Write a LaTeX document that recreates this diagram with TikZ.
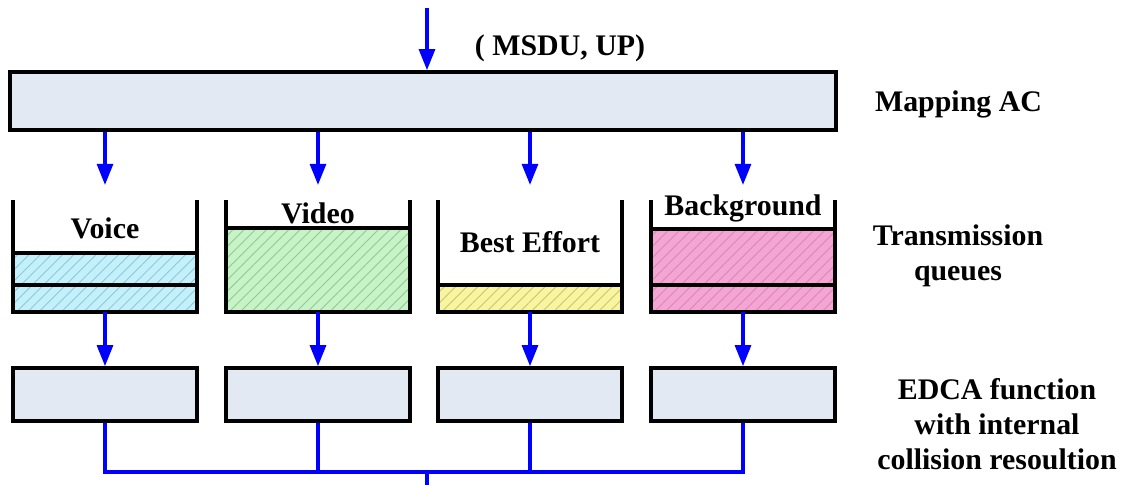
\documentclass[tikz,border=0pt]{standalone}
\usepackage{fontspec}
\setmainfont{Liberation Serif}
\usepackage{tikz}
\usetikzlibrary{arrows.meta, patterns.meta}
\definecolor{boxfill}{RGB}{226,233,243}
\definecolor{voicefill}{RGB}{196,240,250}
\definecolor{voicehatch}{RGB}{140,200,225}
\definecolor{videofill}{RGB}{200,242,200}
\definecolor{videohatch}{RGB}{140,205,140}
\definecolor{effortfill}{RGB}{248,245,160}
\definecolor{efforthatch}{RGB}{205,195,105}
\definecolor{bgfill}{RGB}{243,166,211}
\definecolor{bghatch}{RGB}{225,130,185}

\begin{document}
\begin{tikzpicture}[
    font = \fontsize{17}{19.8}\selectfont\bfseries,
    box/.style = {draw, line width = 2pt, fill = boxfill, inner sep = 0pt},
    wall/.style = {line width = 2.2pt},
    flow/.style = {blue, line width = 2pt, -{Triangle[width = 9pt, length = 12pt]}},
    bus/.style = {blue, line width = 2pt},
    hatch/.style = {pattern = {Lines[angle = 45, distance = 4.5pt, line width = .5pt]}, pattern color = #1}
    ]
        \useasboundingbox (0, 0) rectangle (22.56, 9.7);
        % mapping to access categories
        \node[box, minimum width = 16.52cm, minimum height = 1.16cm] (map) at (8.46, 7.68) {};
        \coordinate (src) at (8.54, 9.54);
        \draw[flow] (src) -- (map.north -| src);
        \node (msdu) at (11.2, 8.74) {( MSDU, UP)};
        \node (maplabel) at (19.17, 7.62) {Mapping AC};
        \coordinate (in1) at (2.1, 6);
        \coordinate (in2) at (6.36, 6);
        \coordinate (in3) at (10.6, 6);
        \coordinate (in4) at (14.86, 6);
        \foreach \i in {1,...,4}
        \draw[flow] (map.south -| in\i) -- (in\i);
        % transmission queues
        \fill[voicefill] (0.26, 3.46) rectangle (3.94, 4.64);
        \fill[hatch = voicehatch] (0.26, 3.46) rectangle (3.94, 4.64);
        \draw[wall] (0.26, 4.64) -- (3.94, 4.64);
        \draw[wall] (0.26, 4) -- (3.94, 4);
        \draw[wall] (0.26, 5.7) -- (0.26, 3.46) -- (3.94, 3.46) -- (3.94, 5.7);
        \node (voice) at (2.1, 5.14) {Voice};
        \fill[videofill] (4.52, 3.46) rectangle (8.2, 5.14);
        \fill[hatch = videohatch] (4.52, 3.46) rectangle (8.2, 5.14);
        \draw[wall] (4.52, 5.14) -- (8.2, 5.14);
        \draw[wall] (4.52, 5.7) -- (4.52, 3.46) -- (8.2, 3.46) -- (8.2, 5.7);
        \node (video) at (6.36, 5.44) {Video};
        \fill[effortfill] (8.76, 3.46) rectangle (12.44, 4);
        \fill[hatch = efforthatch] (8.76, 3.46) rectangle (12.44, 4);
        \draw[wall] (8.76, 4) -- (12.44, 4);
        \draw[wall] (8.76, 5.7) -- (8.76, 3.46) -- (12.44, 3.46) -- (12.44, 5.7);
        \node (effort) at (10.6, 4.86) {Best Effort};
        \fill[bgfill] (13.02, 3.46) rectangle (16.7, 5.12);
        \fill[hatch = bghatch] (13.02, 3.46) rectangle (16.7, 5.12);
        \draw[wall] (13.02, 5.12) -- (16.7, 5.12);
        \draw[wall] (13.02, 4) -- (16.7, 4);
        \draw[wall] (13.02, 5.7) -- (13.02, 3.46) -- (16.7, 3.46) -- (16.7, 5.7);
        \node (bg) at (14.86, 5.54) {Background};
        \node[align = center] (queuelabel) at (19.16, 4.58) {Transmission\\queues};
        % EDCA functions
        \node[box, minimum width = 3.68cm, minimum height = 1.06cm] (edca1) at (2.1, 1.81) {};
        \node[box, minimum width = 3.68cm, minimum height = 1.06cm] (edca2) at (6.36, 1.81) {};
        \node[box, minimum width = 3.68cm, minimum height = 1.06cm] (edca3) at (10.6, 1.81) {};
        \node[box, minimum width = 3.68cm, minimum height = 1.06cm] (edca4) at (14.86, 1.81) {};
        \coordinate (out1) at (2.1, 3.46);
        \coordinate (out2) at (6.36, 3.46);
        \coordinate (out3) at (10.6, 3.46);
        \coordinate (out4) at (14.86, 3.46);
        \foreach \i in {1,...,4}
        \draw[flow] (out\i) -- (edca\i.north);
        \node[align = center] (edcalabel) at (19.94, 1.22) {EDCA function\\with internal\\collision resoultion};
        \coordinate (bus) at (8.54, 0.26);
        \coordinate (sink) at (8.54, 0);
        \draw[bus] (edca1.south) |- (bus) -| (edca4.south);
        \draw[bus] (edca2.south) -- (edca2.south |- bus);
        \draw[bus] (edca3.south) -- (edca3.south |- bus);
        \draw[bus] (bus) -- (sink);
\end{tikzpicture}
\end{document}
